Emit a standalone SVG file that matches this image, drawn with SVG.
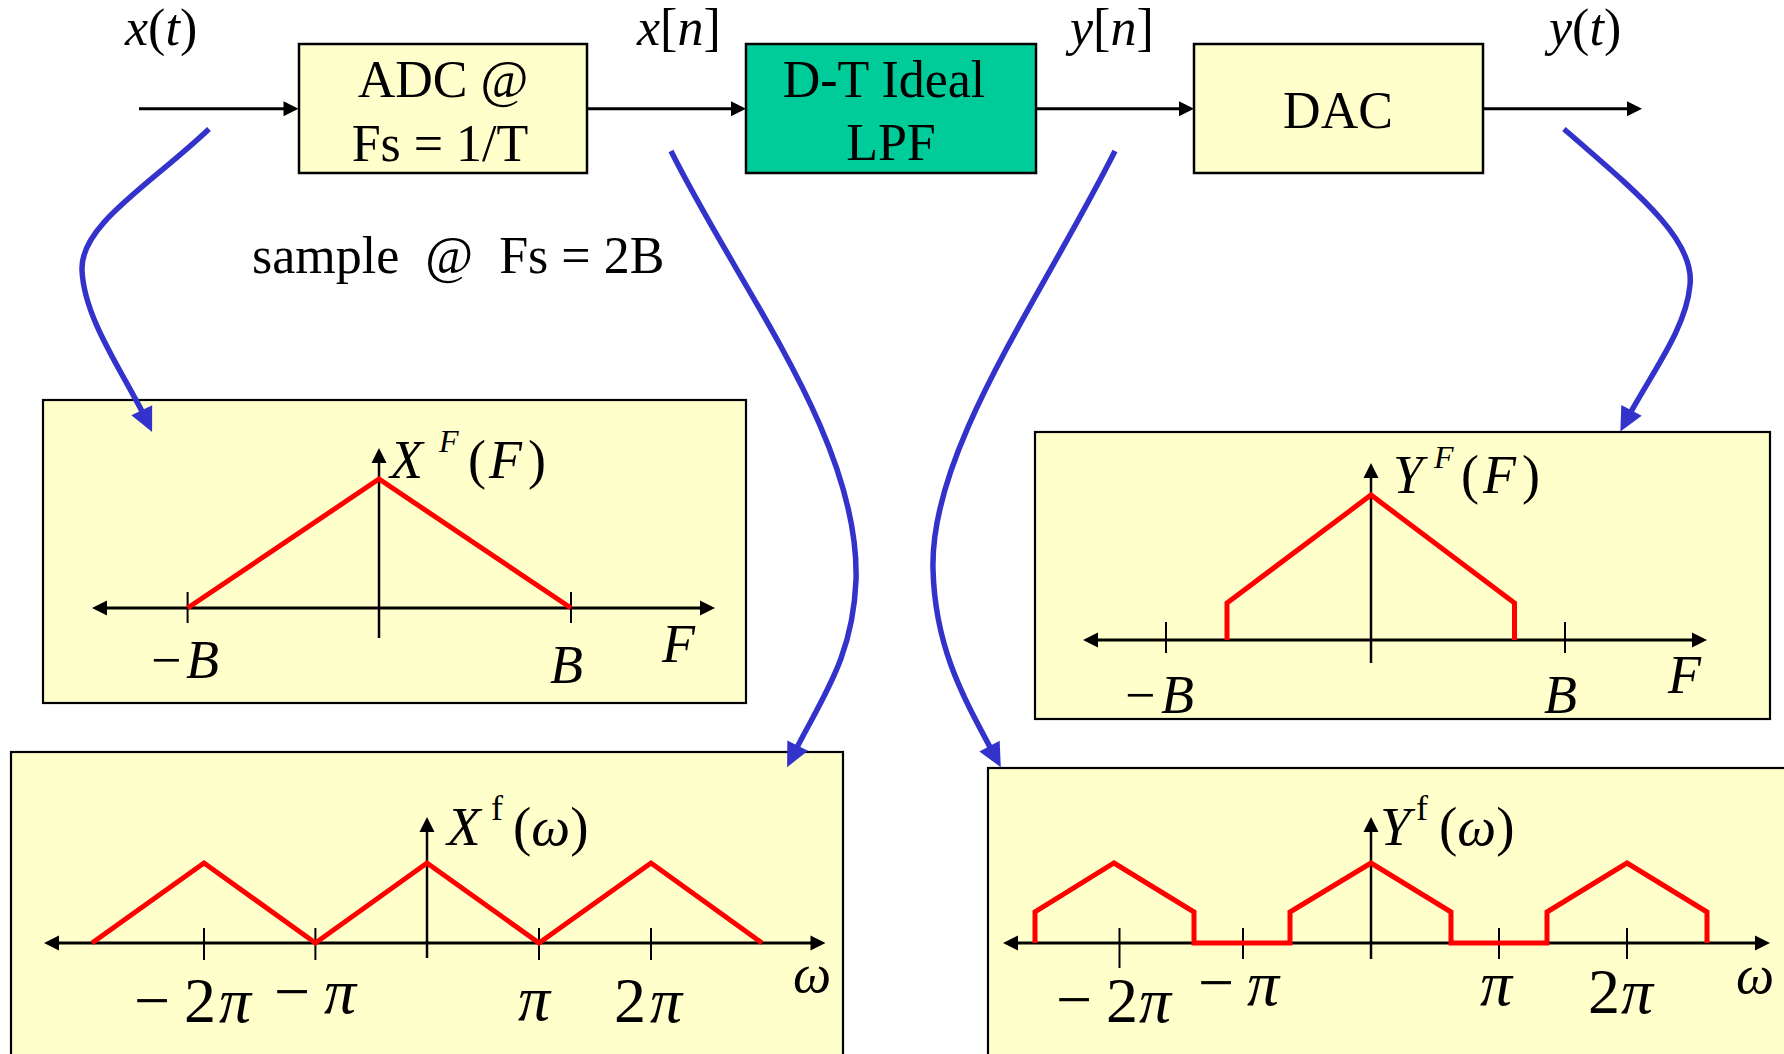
<svg xmlns="http://www.w3.org/2000/svg" width="1784" height="1054" viewBox="0 0 1784 1054">
<style>
.t{font-family:"Liberation Serif","Times New Roman",serif;fill:#000}
.i{font-style:italic}
.box{stroke:#000;stroke-width:2.5}
.panel{fill:#FFFFCC;stroke:#000;stroke-width:2.2}
.ax{stroke:#000;stroke-width:3;fill:none}
.vax{stroke:#000;stroke-width:2.5;fill:none}
.tick{stroke:#000;stroke-width:2;fill:none}
.sig{stroke:#FF0000;stroke-width:5;fill:none}
.flow{stroke:#000;stroke-width:3;fill:none}
.blue{stroke:#3333CC;stroke-width:5.5;fill:none}
</style>
<defs>
<marker id="ah" markerUnits="userSpaceOnUse" markerWidth="40" markerHeight="40" refX="0" refY="0" orient="auto-start-reverse" overflow="visible">
<path d="M-10,-7.5 L5,0 L-10,7.5 Z" fill="#000"/>
</marker>
<marker id="bh" markerUnits="userSpaceOnUse" markerWidth="60" markerHeight="60" refX="0" refY="0" orient="auto" overflow="visible">
<path d="M-14,-11.5 L10,0 L-14,11.5 Z" fill="#3333CC"/>
</marker>
</defs>

<!-- panels -->
<g id="panel-XF">
<rect class="panel" x="43" y="400" width="703" height="303"/>
<line class="ax" x1="97" y1="608" x2="710" y2="608" marker-start="url(#ah)" marker-end="url(#ah)"/>
<line class="vax" x1="379" y1="638" x2="379" y2="453" marker-end="url(#ah)"/>
<line class="tick" x1="187.6" y1="592" x2="187.6" y2="623"/>
<line class="tick" x1="571" y1="592" x2="571" y2="623"/>
<polyline class="sig" points="187.6,608 379,479 571,608"/>
<text class="t" font-size="54"><tspan class="i" x="390" y="478">X</tspan><tspan class="i" x="439" y="452" font-size="32">F</tspan><tspan x="468" y="478">(</tspan><tspan class="i" x="489" y="478">F</tspan><tspan x="528" y="478">)</tspan></text>
<text class="t" font-size="54"><tspan x="151" y="678">−</tspan><tspan class="i" x="186" y="678">B</tspan></text>
<text class="t i" font-size="54" x="550" y="683">B</text>
<text class="t i" font-size="54" x="662" y="662">F</text>
</g>

<g id="panel-YF">
<rect class="panel" x="1035" y="432" width="735" height="287"/>
<line class="ax" x1="1088" y1="640" x2="1702" y2="640" marker-start="url(#ah)" marker-end="url(#ah)"/>
<line class="vax" x1="1371" y1="663" x2="1371" y2="468" marker-end="url(#ah)"/>
<line class="tick" x1="1166" y1="622" x2="1166" y2="653"/>
<line class="tick" x1="1565" y1="622" x2="1565" y2="653"/>
<polyline class="sig" points="1227,640 1227,603 1371,495 1514.5,603 1514.5,640"/>
<text class="t" font-size="54"><tspan class="i" x="1393" y="493">Y</tspan><tspan class="i" x="1434" y="468" font-size="32">F</tspan><tspan x="1461" y="493">(</tspan><tspan class="i" x="1483" y="493">F</tspan><tspan x="1522" y="493">)</tspan></text>
<text class="t" font-size="54"><tspan x="1125" y="713">−</tspan><tspan class="i" x="1161" y="713">B</tspan></text>
<text class="t i" font-size="54" x="1544" y="713">B</text>
<text class="t i" font-size="54" x="1668" y="693">F</text>
</g>

<g id="panel-Xf">
<rect class="panel" x="11" y="752" width="832" height="320"/>
<line class="ax" x1="49" y1="943" x2="820.5" y2="943" marker-start="url(#ah)" marker-end="url(#ah)"/>
<line class="vax" x1="427" y1="958" x2="427" y2="822" marker-end="url(#ah)"/>
<line class="tick" x1="204" y1="928" x2="204" y2="960"/>
<line class="tick" x1="315.4" y1="928" x2="315.4" y2="960"/>
<line class="tick" x1="539" y1="928" x2="539" y2="960"/>
<line class="tick" x1="651" y1="928" x2="651" y2="960"/>
<polyline class="sig" points="92,943 204,863 315.4,943 427,863 539,943 651,863 762,943"/>
<text class="t" font-size="55"><tspan class="i" x="447" y="845">X</tspan><tspan x="491" y="820" font-size="36">f</tspan><tspan x="513" y="845">(<tspan class="i">ω</tspan>)</tspan></text>
<text class="t" font-size="64"><tspan x="134" y="1022">−</tspan><tspan x="184" y="1022">2</tspan><tspan class="i" x="219" y="1022">π</tspan></text>
<text class="t" font-size="64"><tspan x="274" y="1013">−</tspan><tspan class="i" x="324" y="1013">π</tspan></text>
<text class="t i" font-size="64" x="518" y="1020">π</text>
<text class="t" font-size="64"><tspan x="614" y="1022">2</tspan><tspan class="i" x="650" y="1022">π</tspan></text>
<text class="t i" font-size="54" x="793" y="992">ω</text>
</g>

<g id="panel-Yf">
<rect class="panel" x="988" y="768" width="820" height="320"/>
<line class="ax" x1="1008" y1="943" x2="1765" y2="943" marker-start="url(#ah)" marker-end="url(#ah)"/>
<line class="vax" x1="1371" y1="959" x2="1371" y2="822" marker-end="url(#ah)"/>
<line class="tick" x1="1119.5" y1="928" x2="1119.5" y2="968"/>
<line class="tick" x1="1243" y1="928" x2="1243" y2="959"/>
<line class="tick" x1="1499" y1="928" x2="1499" y2="959"/>
<line class="tick" x1="1627" y1="928" x2="1627" y2="959"/>
<polyline class="sig" points="1035,943 1035,912 1114,863 1194,912 1194,943 1290,943 1290,912 1371,863 1451,912 1451,943 1547,943 1547,912 1627,863 1707,912 1707,943"/>
<text class="t" font-size="55"><tspan class="i" x="1380" y="845">Y</tspan><tspan x="1416" y="820" font-size="36">f</tspan><tspan x="1439" y="845">(<tspan class="i">ω</tspan>)</tspan></text>
<text class="t" font-size="64"><tspan x="1056" y="1021">−</tspan><tspan x="1106" y="1022">2</tspan><tspan class="i" x="1139" y="1022">π</tspan></text>
<text class="t" font-size="64"><tspan x="1198" y="1004">−</tspan><tspan class="i" x="1247" y="1005">π</tspan></text>
<text class="t i" font-size="64" x="1480" y="1005">π</text>
<text class="t" font-size="64"><tspan x="1588" y="1013">2</tspan><tspan class="i" x="1621" y="1013">π</tspan></text>
<text class="t i" font-size="54" x="1736" y="993">ω</text>
</g>

<!-- block nodes -->
<g id="adc">
<rect class="box" x="299" y="44" width="288" height="129" fill="#FFFFCC"/>
<text class="t" font-size="52" text-anchor="middle"><tspan x="443" y="97">ADC @</tspan><tspan x="440" y="161">Fs = 1/T</tspan></text>
</g>
<g id="lpf">
<rect class="box" x="746" y="44" width="290" height="129" fill="#00CC99"/>
<text class="t" font-size="52" text-anchor="middle"><tspan x="884" y="97">D-T Ideal</tspan><tspan x="891" y="160">LPF</tspan></text>
</g>
<g id="dac">
<rect class="box" x="1194" y="44" width="289" height="129" fill="#FFFFCC"/>
<text class="t" font-size="52" text-anchor="middle" x="1338" y="128">DAC</text>
</g>

<!-- signal labels -->
<g id="labels">
<text class="t" font-size="52" x="125" y="45"><tspan class="i">x</tspan>(<tspan class="i">t</tspan>)</text>
<text class="t" font-size="52" x="637" y="45"><tspan class="i">x</tspan>[<tspan class="i">n</tspan>]</text>
<text class="t" font-size="52" x="1070" y="45"><tspan class="i">y</tspan>[<tspan class="i">n</tspan>]</text>
<text class="t" font-size="52" x="1549" y="45"><tspan class="i">y</tspan>(<tspan class="i">t</tspan>)</text>
<text class="t" font-size="52" x="252" y="273" style="white-space:pre">sample  @  Fs = 2B</text>
</g>

<!-- connectors -->
<g id="connectors">
<line class="flow" x1="139" y1="108.7" x2="293.5" y2="108.7" marker-end="url(#ah)"/>
<line class="flow" x1="587" y1="108.7" x2="741" y2="108.7" marker-end="url(#ah)"/>
<line class="flow" x1="1036" y1="108.7" x2="1189" y2="108.7" marker-end="url(#ah)"/>
<line class="flow" x1="1483" y1="108.7" x2="1637" y2="108.7" marker-end="url(#ah)"/>
<path class="blue" d="M209,129 C150,185 80,225 82,270 C84,320 125,375 147.8,422.9" marker-end="url(#bh)"/>
<path class="blue" d="M671,151 C740,290 860,440 856,580 C853,660 820,700 791.5,758.2" marker-end="url(#bh)"/>
<path class="blue" d="M1115,151 C1040,300 930,450 933,569 C935,650 965,700 996.1,758.4" marker-end="url(#bh)"/>
<path class="blue" d="M1564,129 C1640,195 1695,240 1690,285 C1686,330 1650,375 1625,422.7" marker-end="url(#bh)"/>
</g>
</svg>
